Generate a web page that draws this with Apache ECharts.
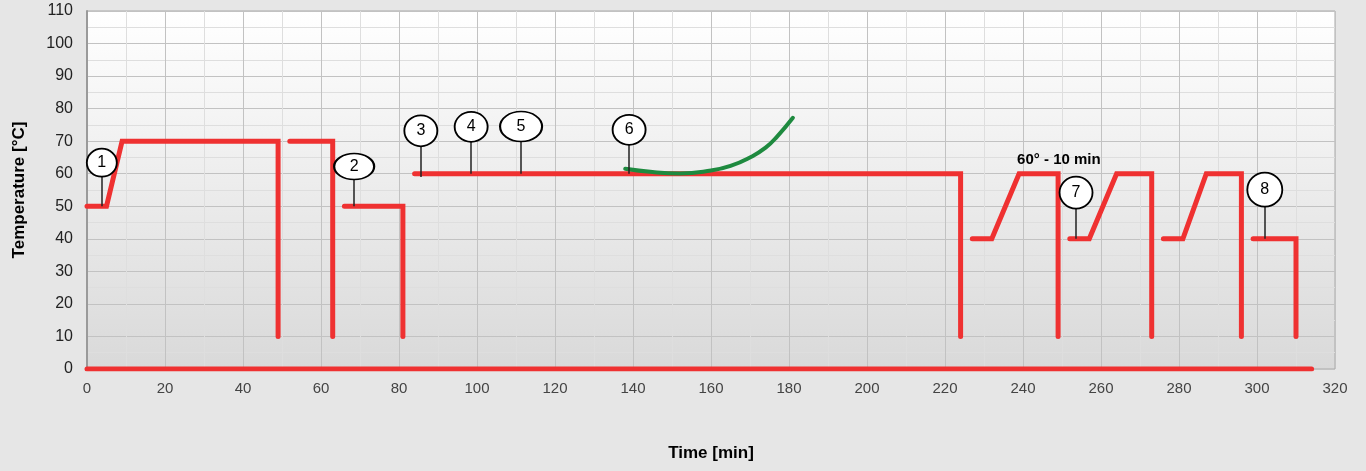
<!DOCTYPE html>
<html>
<head>
<meta charset="utf-8">
<style>
  html, body { margin: 0; padding: 0; background: #e6e6e6; }
  #chart { width: 1366px; height: 471px; }
</style>
<script src="https://cdn.jsdelivr.net/npm/echarts@6/dist/echarts.min.js"></script>
</head>
<body>
<div id="chart"></div>
<script>
// temperature program (red), one array per unbroken stroke: [min, °C]
var heatSegments = [
    [[0, 50], [5, 50], [9, 70], [49, 70], [49, 10]],
    [[52, 70], [63, 70], [63, 10]],
    [[66, 50], [81, 50], [81, 10]],
    [[84, 60], [224, 60], [224, 10]],
    [[227, 40], [232, 40], [239, 60], [249, 60], [249, 10]],
    [[252, 40], [257, 40], [264, 60], [273, 60], [273, 10]],
    [[276, 40], [281, 40], [287, 60], [296, 60], [296, 10]],
    [[299, 40], [310, 40], [310, 10]],
    [[0, 0], [314, 0]]
];

// green curve
var curveData = [[138, 61.5], [145, 60.5], [152, 60.1], [160, 61], [165, 62.4], [170, 65], [174, 68], [177, 71.5], [181, 77.2]];

// numbered callouts
var calloutLabels = ['1', '2', '3', '4', '5', '6', '7', '8'];
var calloutX = [3.8, 68.5, 85.6, 98.5, 111.3, 139, 253.6, 302];
var calloutY = [63.4, 62.2, 73.2, 74.4, 74.5, 73.5, 54.2, 55.1];
var calloutBase = [50, 50, 59, 60, 60, 60, 40, 40];
var calloutSize = [[30, 28], [40, 26], [33, 31], [33, 30], [42, 30], [33, 30], [33, 32], [35, 34]];

// text note
var noteText = '60° - 10 min';
var notePos = [249.2, 64.3];

var xTicks = { min: 0, max: 320, step: 20 };
var yTicks = { min: 0, max: 110, step: 10 };

var RED = '#ef3131';
var GREEN = '#1e8a3f';
var FONT = 'Liberation Sans, Arial, sans-serif';

var series = [];

heatSegments.forEach(function (seg, i) {
    series.push({
        name: 'heat' + i,
        type: 'line',
        data: seg,
        symbol: 'none',
        z: 3,
        lineStyle: { color: RED, width: 5, cap: 'round', join: 'miter' }
    });
});

series.push({
    name: 'curve',
    type: 'line',
    data: curveData,
    symbol: 'none',
    smooth: true,
    z: 4,
    lineStyle: { color: GREEN, width: 4, cap: 'round' }
});

series.push({
    name: 'leaders',
    type: 'lines',
    coordinateSystem: 'cartesian2d',
    z: 5,
    lineStyle: { color: '#222', width: 1.5, opacity: 1 },
    data: calloutX.map(function (x, i) {
        return { coords: [[x, calloutBase[i]], [x, calloutY[i]]] };
    })
});

series.push({
    name: 'callouts',
    type: 'scatter',
    z: 6,
    symbol: 'circle',
    data: calloutX.map(function (x, i) {
        return {
            value: [x, calloutY[i]],
            name: calloutLabels[i],
            symbolSize: calloutSize[i]
        };
    }),
    itemStyle: { color: '#ffffff', borderColor: '#000', borderWidth: 1.8, opacity: 1 },
    label: {
        show: true,
        position: 'inside',
        formatter: '{b}',
        color: '#000',
        fontSize: 16,
        fontFamily: FONT
    }
});

series.push({
    name: 'note',
    type: 'scatter',
    z: 6,
    symbolSize: 0,
    itemStyle: { color: '#000', opacity: 1 },
    data: [{ value: notePos, name: noteText }],
    label: {
        show: true,
        position: 'inside',
        formatter: '{b}',
        color: '#000',
        opacity: 1,
        fontSize: 15,
        fontWeight: 'bold',
        fontFamily: FONT
    }
});

var chart = echarts.init(document.getElementById('chart'));
chart.setOption({
    backgroundColor: '#e6e6e6',
    animation: false,
    grid: {
        left: 87, right: 31, top: 11, bottom: 102,
        show: true,
        borderColor: '#a8a8a8',
        borderWidth: 1,
        backgroundColor: new echarts.graphic.LinearGradient(0, 0, 0, 1, [
            { offset: 0, color: '#ffffff' },
            { offset: 1, color: '#d9d9d9' }
        ])
    },
    xAxis: {
        type: 'value',
        min: xTicks.min, max: xTicks.max, interval: xTicks.step,
        name: 'Time [min]',
        nameLocation: 'middle',
        nameGap: 76,
        nameTextStyle: { fontSize: 17, fontWeight: 'bold', color: '#000', fontFamily: FONT },
        axisLine: { show: false },
        axisTick: { show: false },
        axisLabel: { color: '#444', fontSize: 15, margin: 12, fontFamily: FONT },
        splitLine: { show: true, lineStyle: { color: '#c2c2c2', width: 1 } },
        minorTick: { show: false, splitNumber: 2 },
        minorSplitLine: { show: true, lineStyle: { color: '#dedede', width: 1 } }
    },
    yAxis: {
        type: 'value',
        min: yTicks.min, max: yTicks.max, interval: yTicks.step,
        name: 'Temperature [°C]',
        nameLocation: 'middle',
        nameGap: 59,
        nameTextStyle: { fontSize: 17, fontWeight: 'bold', color: '#000', fontFamily: FONT },
        axisLine: { show: true, lineStyle: { color: '#9a9a9a', width: 2 } },
        axisTick: { show: false },
        axisLabel: { color: '#222', fontSize: 16, margin: 14, fontFamily: FONT },
        splitLine: { show: true, lineStyle: { color: '#c2c2c2', width: 1 } },
        minorTick: { show: false, splitNumber: 2 },
        minorSplitLine: { show: true, lineStyle: { color: '#dedede', width: 1 } }
    },
    series: series
});
</script>
</body>
</html>
